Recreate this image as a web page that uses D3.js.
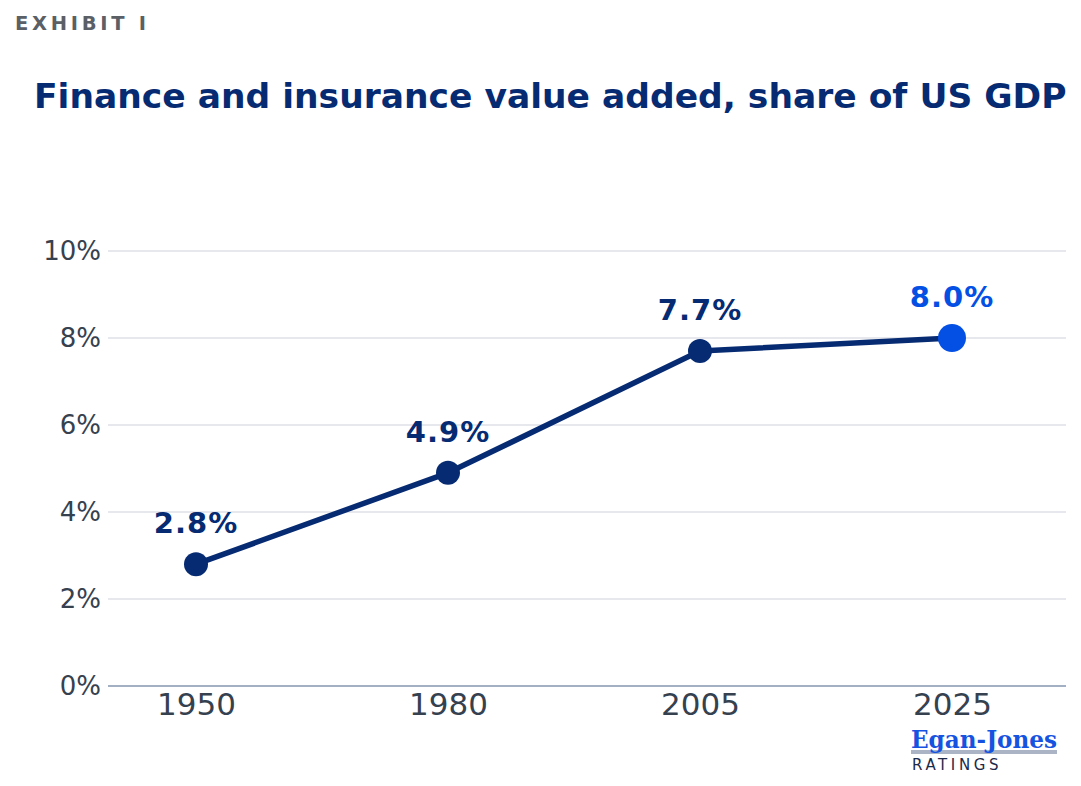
<!DOCTYPE html>
<html>
<head>
<meta charset="utf-8">
<script src="https://cdn.jsdelivr.net/npm/d3@7"></script>
<style>
  body { margin: 0; background: #fff; }
  #chart { width: 1081px; height: 786px; }
  svg { font-family: "DejaVu Sans", sans-serif; }
</style>
</head>
<body>
<div id="chart"></div>
<script>
const years = ["1950", "1980", "2005", "2025"];
const shares = [2.8, 4.9, 7.7, 8.0];
const yTicks = [0, 2, 4, 6, 8, 10];

const navy = "#062b72";
const bright = "#0450e4";

const buildChart = (id) => {
  const w = 1081, h = 786;
  const svg = d3.select(`#${id}`).append("svg")
    .attr("width", w)
    .attr("height", h);

  const margin = { left: 108, right: 15, top: 251, bottom: 100 };

  const xScale = d3.scalePoint()
    .domain(years)
    .range([margin.left + 88, w - margin.right - 114]);

  const yScale = d3.scaleLinear()
    .domain([0, 10])
    .range([h - margin.bottom, margin.top]);

  // header
  svg.append("text")
    .attr("x", 15).attr("y", 30)
    .attr("fill", "#5b5f66")
    .attr("font-size", 19.5)
    .attr("font-weight", "bold")
    .attr("textLength", 131)
    .attr("lengthAdjust", "spacing")
    .text("EXHIBIT I");

  svg.append("text")
    .attr("id", "title")
    .attr("x", 34).attr("y", 108)
    .attr("fill", navy)
    .attr("font-size", 34.5)
    .attr("font-weight", "bold")
    .text("Finance and insurance value added, share of US GDP");

  // grid
  svg.append("g")
    .selectAll("line")
    .data(yTicks.filter(d => d > 0))
    .join("line")
    .attr("x1", margin.left).attr("x2", w - margin.right)
    .attr("y1", d => yScale(d)).attr("y2", d => yScale(d))
    .attr("stroke", "#e6e8ee")
    .attr("stroke-width", 2);

  const yAxis = svg.append("g")
    .attr("transform", `translate(${margin.left}, 0)`)
    .call(d3.axisLeft(yScale).tickValues(yTicks).tickFormat(d => `${d}%`).tickSize(0).tickPadding(7));
  yAxis.select(".domain").remove();
  yAxis.selectAll("text")
    .attr("font-size", 26)
    .attr("fill", "#364150")
    .attr("font-family", "DejaVu Sans");

  const xAxis = svg.append("g")
    .attr("transform", `translate(0, ${yScale(0)})`)
    .call(d3.axisBottom(xScale).tickSize(0).tickPadding(7));
  xAxis.select(".domain")
    .attr("d", `M${margin.left},0H${w - margin.right}`)
    .attr("stroke", "#a3afc2")
    .attr("stroke-width", 2);
  xAxis.selectAll("text")
    .attr("font-size", 31)
    .attr("fill", "#364150")
    .attr("font-family", "DejaVu Sans");

  const data = years.map((y, i) => ({ year: y, value: shares[i], last: i === years.length - 1 }));

  const line = d3.line()
    .x(d => xScale(d.year))
    .y(d => yScale(d.value));

  svg.append("path")
    .datum(data)
    .attr("d", line)
    .attr("fill", "none")
    .attr("stroke", navy)
    .attr("stroke-width", 5.5)
    .attr("stroke-linejoin", "round");

  svg.append("g")
    .selectAll("circle")
    .data(data)
    .join("circle")
    .attr("cx", d => xScale(d.year))
    .attr("cy", d => yScale(d.value))
    .attr("r", d => d.last ? 14 : 12)
    .attr("fill", d => d.last ? bright : navy);

  svg.append("g")
    .selectAll("text")
    .data(data)
    .join("text")
    .attr("x", d => xScale(d.year))
    .attr("y", d => yScale(d.value) - 31)
    .attr("text-anchor", "middle")
    .attr("font-size", 29)
    .attr("letter-spacing", 1)
    .attr("font-weight", "bold")
    .attr("fill", d => d.last ? bright : navy)
    .text(d => `${d.value.toFixed(1)}%`);

  // logo
  const logo = svg.append("g").attr("transform", "translate(911, 748)");
  logo.append("rect")
    .attr("x", 0).attr("y", 2)
    .attr("width", 146).attr("height", 4)
    .attr("fill", "#aab4c4");
  logo.append("text")
    .attr("x", 0).attr("y", 0)
    .style("font-family", "'DejaVu Serif', 'Liberation Serif', serif")
    .attr("font-size", 25)
    .attr("font-weight", "bold")
    .attr("fill", "#1553e0")
    .attr("textLength", 146)
    .attr("lengthAdjust", "spacingAndGlyphs")
    .text("Egan-Jones");
  logo.append("text")
    .attr("x", 1).attr("y", 22)
    .attr("font-size", 15)
    .attr("font-weight", 500)
    .attr("letter-spacing", 3.6)
    .attr("fill", "#1c2a4a")
    .text("RATINGS");
};

buildChart("chart");
</script>
</body>
</html>
